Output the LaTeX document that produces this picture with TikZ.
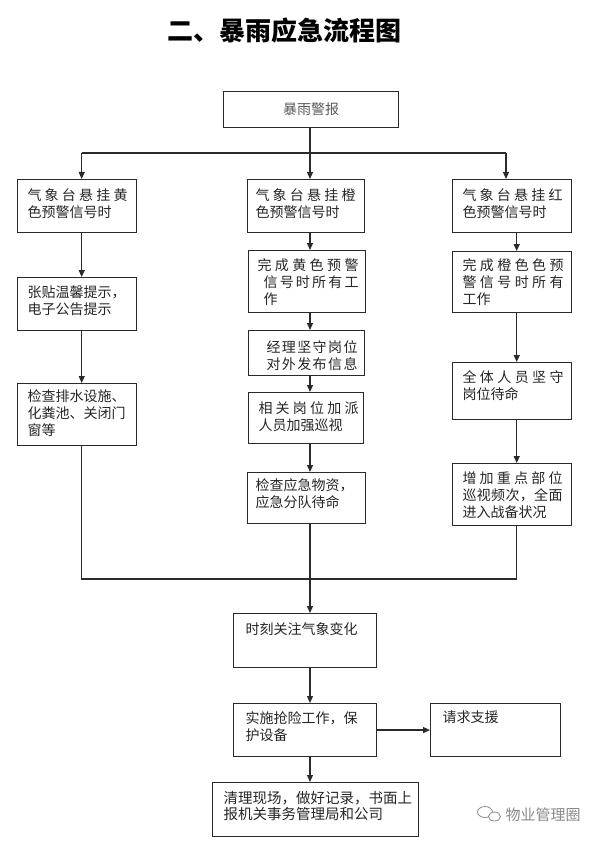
\documentclass[tikz,border=0pt]{standalone}
\usepackage{fontspec}
\setmainfont{Noto Sans CJK SC}
\usetikzlibrary{arrows.meta}
\definecolor{linec}{HTML}{2A2A2A}
\definecolor{textc}{HTML}{262626}
\definecolor{markc}{HTML}{8A8A8A}
% spread characters of a line evenly over a given width
\makeatletter
\def\spaced#1{\spacedA#1\relax}
\def\spacedA#1{#1\futurelet\sp@next\spacedB}
\def\spacedB{\ifx\sp@next\relax\expandafter\spacedEnd\else\hfil\expandafter\spacedA\fi}
\def\spacedEnd\relax{}
\makeatother
\newcommand\spl[2]{\makebox[#1pt][s]{\spaced{#2}}}
% box content: width, height, left pad, first-line centre offset, lines
\newcommand\bt[5]{\parbox[c][#2pt][t]{#1pt}{\leftskip=#3pt\rightskip=0pt plus 1fil\parindent=0pt\rule{0pt}{\dimexpr#4pt+5pt\relax}#5\par}}
\tikzset{
  box/.style={draw=linec, line width=1.1pt, inner sep=0pt, anchor=north west,
    text=textc, font=\fontsize{14}{17}\selectfont},
  conn/.style={draw=linec, line width=1.2pt},
  arr/.style={conn, -{Triangle[length=7pt,width=6pt]}}
}
\begin{document}
\begin{tikzpicture}[x=1pt,y=-1pt]
\useasboundingbox (0,0) rectangle (600,845);
\fill[white] (0,0) rectangle (600,845);

% title
\node[font=\fontsize{26}{30}\selectfont\bfseries, text=black] (title) at (284,31) {二、暴雨应急流程图};

% top box
\node[box, minimum width=175pt, minimum height=36pt, text=black!65] (T) at (223,91) {暴雨警报};

% left column
\node[box, minimum width=119.5pt, minimum height=53pt] (L1) at (16.5,179)
  {\bt{119.5}{53}{10.5}{16}{\spl{100}{气象台悬挂黄}\\色预警信号时}};
\node[box, minimum width=119.5pt, minimum height=53pt] (L2) at (16.5,277)
  {\bt{119.5}{53}{10.5}{15}{张贴温馨提示，\\电子公告提示}};
\node[box, minimum width=119.5pt, minimum height=62pt] (L3) at (16.5,383)
  {\bt{119.5}{62}{10.5}{13}{检查排水设施、\\化粪池、关闭门\\窗等}};

% middle column
\node[box, minimum width=117pt, minimum height=53pt] (M1) at (247,179)
  {\bt{117}{53}{8}{16}{\spl{100}{气象台悬挂橙}\\色预警信号时}};
\node[box, minimum width=117pt, minimum height=62pt] (M2) at (248,250)
  {\bt{117}{62}{9}{15}{\spl{101}{完成黄色预警}\\\hspace*{6pt}\spl{95}{信号时所有工}\\\hspace*{6pt}作}};
\node[box, minimum width=116pt, minimum height=45pt] (M3) at (248,330)
  {\bt{116}{45}{18}{17}{\spl{91}{经理坚守岗位}\\\spl{91}{对外发布信息}}};
\node[box, minimum width=115pt, minimum height=51pt] (M4) at (248,392)
  {\bt{115}{51}{10}{16}{\spl{100}{相关岗位加派}\\人员加强巡视}};
\node[box, minimum width=118pt, minimum height=51pt] (M5) at (247,472)
  {\bt{118}{51}{8}{13}{检查应急物资，\\应急分队待命}};

% right column
\node[box, minimum width=119pt, minimum height=53pt] (R1) at (452,179)
  {\bt{119}{53}{10}{16}{\spl{100}{气象台悬挂红}\\色预警信号时}};
\node[box, minimum width=119pt, minimum height=61pt] (R2) at (452,251)
  {\bt{119}{61}{10}{14}{\spl{101}{完成橙色色预}\\\spl{101}{警信号时所有}\\工作}};
\node[box, minimum width=119pt, minimum height=57pt] (R3) at (452,362)
  {\bt{119}{57}{10}{15}{\spl{101}{全体人员坚守}\\岗位待命}};
\node[box, minimum width=119pt, minimum height=62pt] (R4) at (452,463)
  {\bt{119}{62}{10}{15}{\spl{100}{增加重点部位}\\\spl{100}{巡视频次，全面}\\进入战备状况}};

% bottom part
\node[box, minimum width=143pt, minimum height=54pt] (B1) at (233,613)
  {\bt{143}{54}{12}{16}{时刻关注气象变化}};
\node[box, minimum width=143pt, minimum height=53pt] (B2) at (233,703)
  {\bt{143}{53}{12}{15}{实施抢险工作，保\\护设备}};
\node[box, minimum width=130pt, minimum height=53pt] (B3) at (430,703)
  {\bt{130}{53}{12}{14}{请求支援}};
\node[box, minimum width=206pt, minimum height=54pt] (B4) at (212,782)
  {\bt{206}{54}{11}{16}{\fontsize{14.5}{16}\selectfont 清理现场，做好记录，书面上\\报机关事务管理局和公司}};

% column coordinates
\coordinate (tL) at (81.7,153);
\coordinate (tM) at (310,153);
\coordinate (tR) at (506,153);
\coordinate (cL) at (81.7,579);
\coordinate (cM) at (310,579);
\coordinate (cR) at (516.7,579);

% top distribution
\draw[arr] (T.south -| tM) -- (M1.north -| tM);
\draw[conn] (tL) -- (tR);
\draw[arr] (tL) -- (L1.north -| tL);
\draw[arr] (tR) -- (R1.north -| tR);

% left chain
\draw[arr] (L1.south -| cL) -- (L2.north -| cL);
\draw[arr] (L2.south -| cL) -- (L3.north -| cL);
% middle chain
\draw[arr] (M1.south -| cM) -- (M2.north -| cM);
\draw[arr] (M2.south -| cM) -- (M3.north -| cM);
\draw[arr] (M3.south -| cM) -- (M4.north -| cM);
\draw[arr] (M4.south -| cM) -- (M5.north -| cM);
% right chain
\draw[arr] (R1.south -| cR) -- (R2.north -| cR);
\draw[arr] (R2.south -| cR) -- (R3.north -| cR);
\draw[arr] (R3.south -| cR) -- (R4.north -| cR);

% merge
\draw[conn] (L3.south -| cL) -- (cL) -- (cR) -- (R4.south -| cR);
\draw[arr] (M5.south -| cM) -- (B1.north -| cM);
\draw[arr] (B1.south -| cM) -- (B2.north -| cM);
\draw[arr] (B2.east) -- (B3.west);
\draw[arr] (B2.south -| cM) -- (B4.north -| cM);

% watermark
\draw[markc, line width=0.8pt] (485,812) ellipse [x radius=7.5, y radius=5.5];
\draw[markc, line width=0.8pt, fill=white] (494.5,816.5) ellipse [x radius=6, y radius=4.5];
\node[text=markc, font=\fontsize{15}{18}\selectfont] (wm) at (543,815) {物业管理圈};
\end{tikzpicture}
\end{document}
